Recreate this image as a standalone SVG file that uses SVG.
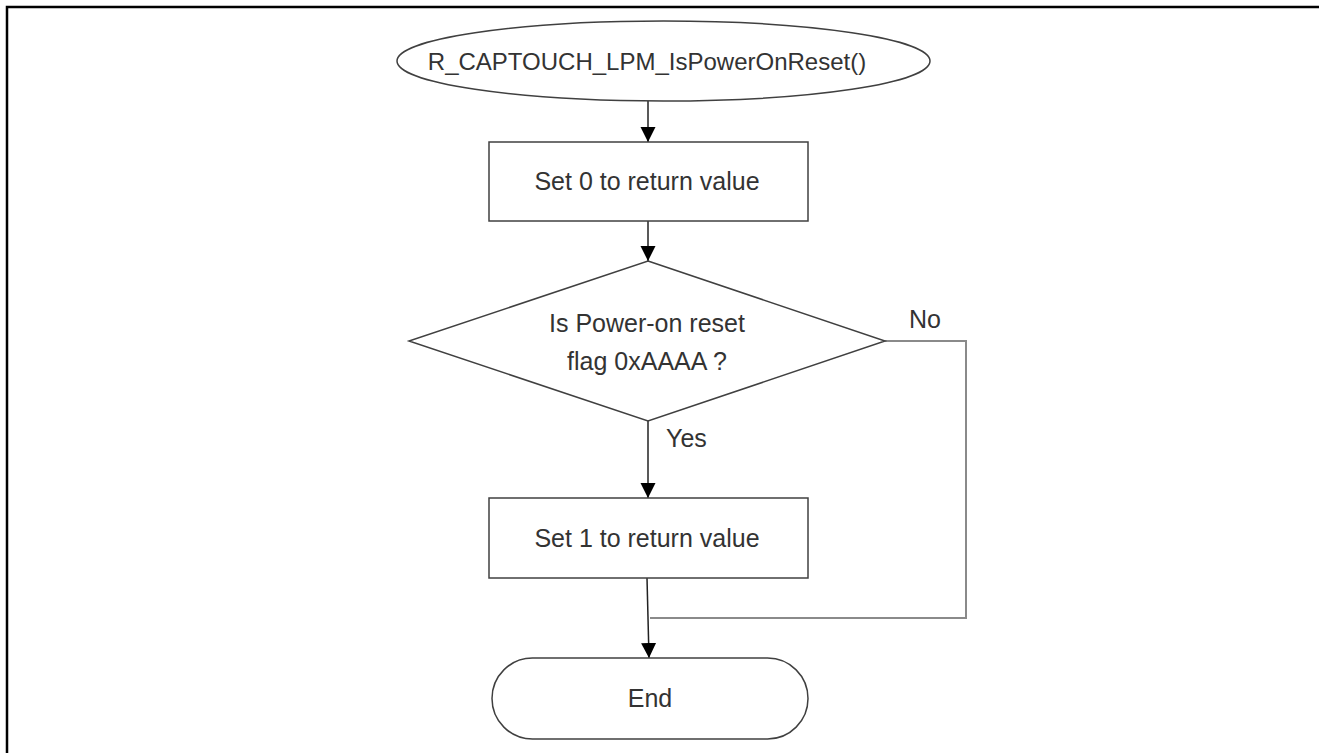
<svg xmlns="http://www.w3.org/2000/svg" width="1319" height="753" viewBox="0 0 1319 753">
  <defs>
    <marker id="arrow" markerUnits="userSpaceOnUse" markerWidth="16" markerHeight="16" refX="15" refY="7.5" orient="auto">
      <path d="M0,0 L15,7.5 L0,15 Z" fill="#000"/>
    </marker>
    <style>
      .shape { fill: #fff; stroke: #404040; stroke-width: 1.5; }
      .txt { font-family: "Liberation Sans", Arial, sans-serif; font-size: 25px; fill: #333; text-anchor: middle; }
      .title { font-size: 24px; }
      .conn { fill: none; stroke: #222; stroke-width: 1.5; }
      .conn-gray { fill: none; stroke: #8a8a8a; stroke-width: 2; }
      .frame { fill: none; stroke: #000; stroke-width: 2.5; }
    </style>
  </defs>
  <rect x="0" y="0" width="1319" height="753" fill="#fff"/>
  <g id="frame">
    <polyline class="frame" points="7,753 7,7 1319,7"/>
  </g>
  <g id="connectors">
    <line class="conn" x1="648" y1="101" x2="648" y2="142" marker-end="url(#arrow)"/>
    <line class="conn" x1="648" y1="221" x2="648" y2="261" marker-end="url(#arrow)"/>
    <line class="conn" x1="648" y1="421" x2="648" y2="498" marker-end="url(#arrow)"/>
    <line class="conn" x1="647" y1="578" x2="649" y2="658" marker-end="url(#arrow)"/>
    <polyline class="conn-gray" points="885,341 966,341 966,618 650,618"/>
  </g>
  <g id="start">
    <ellipse class="shape" cx="663.5" cy="61" rx="266.5" ry="40"/>
    <text class="txt title" x="647" y="70">R_CAPTOUCH_LPM_IsPowerOnReset()</text>
  </g>
  <g id="set0">
    <rect class="shape" x="489" y="142" width="319" height="79"/>
    <text class="txt" x="647" y="190">Set 0 to return value</text>
  </g>
  <g id="decision">
    <polygon class="shape" points="648,261 885,341 648,421 409,341"/>
    <text class="txt" x="647" y="332">Is Power-on reset</text>
    <text class="txt" x="647" y="370">flag 0xAAAA ?</text>
  </g>
  <g id="label-no">
    <text class="txt" x="925" y="328">No</text>
  </g>
  <g id="label-yes">
    <text class="txt" x="666" y="447" style="text-anchor:start">Yes</text>
  </g>
  <g id="set1">
    <rect class="shape" x="489" y="498" width="319" height="80"/>
    <text class="txt" x="647" y="547">Set 1 to return value</text>
  </g>
  <g id="end">
    <rect class="shape" x="492" y="658" width="316" height="81" rx="40.5" ry="40.5"/>
    <text class="txt" x="650" y="707">End</text>
  </g>
</svg>
